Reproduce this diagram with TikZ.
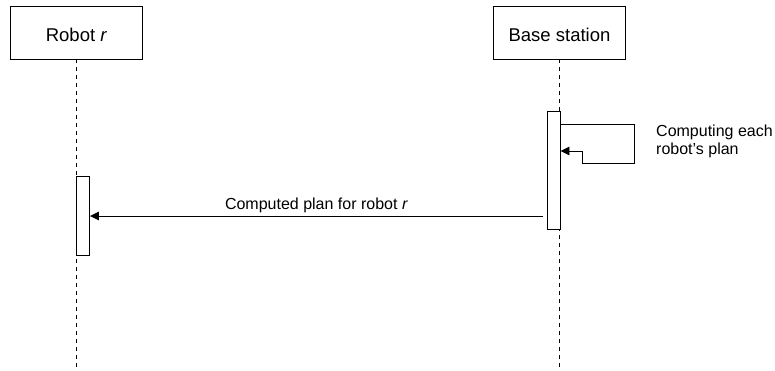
\documentclass[tikz,border=0pt]{standalone}
\usepackage{fontspec}
\setmainfont{Liberation Sans}
\usetikzlibrary{arrows.meta}
\tikzset{
  actor/.style={draw=black, line width=0.9pt, fill=white, rectangle,
    minimum width=132pt, minimum height=53pt, inner sep=0pt,
    text height=17pt, text depth=0pt,
    font=\fontsize{18.5}{22}\selectfont},
  lifeline/.style={draw=black, line width=0.9pt, dash pattern=on 4pt off 4pt},
  activation/.style={draw=black, line width=0.9pt, fill=white, rectangle,
    minimum width=13pt, inner sep=0pt},
  msg/.style={draw=black, line width=0.9pt, -{Triangle[length=9pt,width=8.5pt]}},
  msglabel/.style={font=\fontsize{16}{18}\selectfont, inner sep=2.5pt}
}
\begin{document}
\begin{tikzpicture}[x=1pt, y=-1pt]
  \useasboundingbox (0,0) rectangle (775,370);

  % participants
  \node[actor] (robot) at (76.5,32.5) {Robot \textit{r}};
  \node[actor] (base) at (559.5,32.5) {Base station};

  % lifelines
  \coordinate (robotEnd) at (76.5,370);
  \coordinate (baseEnd) at (559.5,370);
  \draw[lifeline] (robot.south) -- (robotEnd);
  \draw[lifeline] (base.south) -- (baseEnd);

  % activation bars
  \node[activation, minimum height=118pt] (basebar) at (553.5,170) {};
  \node[activation, minimum height=79pt] (robotbar) at (83,215.5) {};

  % self message on the base station
  \coordinate (s0) at (basebar.east |- 0,124);
  \coordinate (s1) at (634,124);
  \coordinate (s2) at (634,163);
  \coordinate (s3) at (582,163);
  \coordinate (s4) at (582,151);
  \draw[msg] (s0) -- (s1) -- (s2) -- (s3) -- (s4) -- (s4 -| basebar.east);
  \node[msglabel, anchor=north west, inner sep=0pt, align=left] (selflabel)
    at (656,124.5) {Computing each\\robot{\char"0027}s plan};

  % plan sent to the robot
  \coordinate (m0) at (543,216);
  \draw[msg] (m0) -- (m0 -| robotbar.east)
    node[msglabel, midway, above] (plabel) {Computed plan for robot \textit{r}};
\end{tikzpicture}
\end{document}
